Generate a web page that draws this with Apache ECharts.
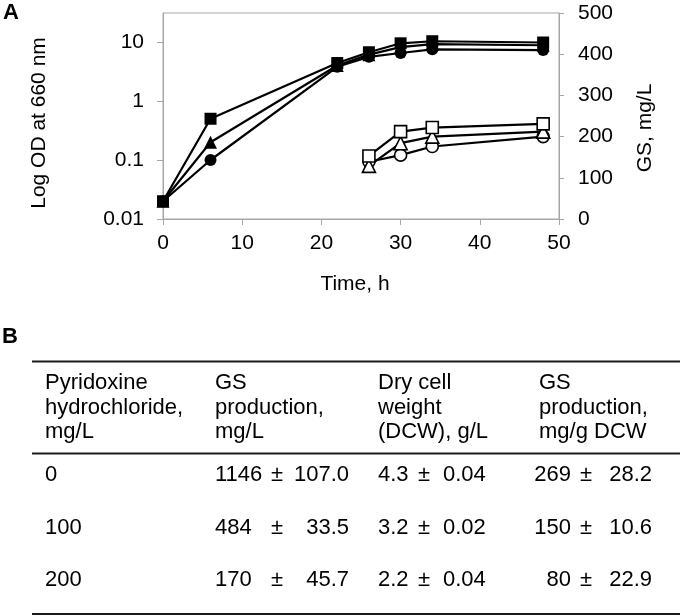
<!DOCTYPE html>
<html>
<head>
<meta charset="utf-8">
<script src="https://cdn.jsdelivr.net/npm/echarts@6.0.0/dist/echarts.min.js"></script>
<style>
html, body { margin: 0; padding: 0; background: #fff; }
#main { width: 680px; height: 616px; }
</style>
</head>
<body>
<div id="main"></div>
<script>
// time points, h
var timeOD = [0, 6, 22, 26, 30, 34, 48];
var timeGS = [26, 30, 34, 48];

// OD at 660 nm (filled marks)
var odSquare = [0.02, 0.5, 4.4, 6.7, 9.5, 10.3, 9.8];
var odTriangle = [0.02, 0.2, 4.0, 6.1, 8.2, 9.2, 8.8];
var odCircle = [0.02, 0.1, 3.8, 5.6, 6.5, 7.5, 7.3];

// GS, mg/L (open marks)
var gsSquare = [153, 212, 222, 231];
var gsTriangle = [129, 184, 200, 212];
var gsCircle = [139, 155, 176, 200];

var odTicks = [0.01, 0.1, 1, 10];
var odTickLabels = ['0.01', '0.1', '1', '10'];

// table B
var headPyr = ['Pyridoxine', 'hydrochloride,', 'mg/L'];
var headGS = ['GS', 'production,', 'mg/L'];
var headDCW = ['Dry cell', 'weight', '(DCW), g/L'];
var headSpec = ['GS', 'production,', 'mg/g DCW'];
var rowPyr = ['0', '100', '200'];
var gsValue = ['1146', '484', '170'];
var gsError = ['107.0', '33.5', '45.7'];
var dcwValue = ['4.3', '3.2', '2.2'];
var dcwError = ['0.04', '0.02', '0.04'];
var specValue = ['269', '150', '80'];
var specError = ['28.2', '10.6', '22.9'];

var FONT = '"Liberation Sans", Arial, sans-serif';
var FS = 21;
var TFS = 22;
var axisGray = '#a6a6a6';

var pairs = function(xs, ys) {
	var out = [];
	for (var i = 0; i < xs.length; i++) {
		out.push([xs[i], ys[i]]);
	}
	return out;
};

var lineSeries = function(name, xs, ys, symbol, size, filled, axisIdx) {
	return {
		name: name,
		type: 'line',
		yAxisIndex: axisIdx,
		data: pairs(xs, ys),
		symbol: symbol,
		symbolSize: size,
		showAllSymbol: true,
		animation: false,
		lineStyle: { color: '#000', width: 2.2 },
		itemStyle: {
			color: filled ? '#000' : '#fff',
			borderColor: '#000',
			borderWidth: filled ? 0 : 1.6
		},
		z: filled ? 3 : 4
	};
};

var txt = function(x, y, s, align, size) {
	return {
		type: 'text',
		silent: true,
		style: {
			text: s,
			x: x,
			y: y,
			fill: '#000',
			font: (size || TFS) + 'px ' + FONT,
			textAlign: align || 'left',
			textVerticalAlign: 'middle'
		}
	};
};

var rule = function(y, w) {
	return {
		type: 'line',
		silent: true,
		shape: { x1: 32, y1: y, x2: 680, y2: y },
		style: { stroke: '#1a1a1a', lineWidth: w }
	};
};

var graphics = [];
// panel letters
graphics.push({ type: 'text', silent: true, style: { text: 'A', x: 3, y: 13, fill: '#000', font: 'bold 22px ' + FONT, textVerticalAlign: 'middle' } });
graphics.push({ type: 'text', silent: true, style: { text: 'B', x: 2, y: 337, fill: '#000', font: 'bold 22px ' + FONT, textVerticalAlign: 'middle' } });

// axis titles
graphics.push({ type: 'text', silent: true, x: 39, y: 123, rotation: Math.PI / 2,
	style: { text: 'Log OD at 660 nm', x: 0, y: 0, fill: '#000', font: FS + 'px ' + FONT, textAlign: 'center', textVerticalAlign: 'middle' } });
graphics.push({ type: 'text', silent: true, x: 645, y: 128, rotation: Math.PI / 2,
	style: { text: 'GS, mg/L', x: 0, y: 0, fill: '#000', font: FS + 'px ' + FONT, textAlign: 'center', textVerticalAlign: 'middle' } });
graphics.push(txt(355, 284, 'Time, h', 'center', FS));

// table rules
graphics.push(rule(361.5, 2));
graphics.push(rule(453.5, 2));
graphics.push(rule(614, 2));

// table header
var headY = [383, 408, 432];
for (var i = 0; i < 3; i++) {
	graphics.push(txt(45, headY[i], headPyr[i]));
	graphics.push(txt(215, headY[i], headGS[i]));
	graphics.push(txt(378, headY[i], headDCW[i]));
	graphics.push(txt(539, headY[i], headSpec[i]));
}

// table rows
var rowY = [475, 528, 580];
for (var j = 0; j < 3; j++) {
	graphics.push(txt(45, rowY[j], rowPyr[j]));
	graphics.push(txt(215, rowY[j], gsValue[j]));
	graphics.push(txt(277, rowY[j], '\u00b1', 'center'));
	graphics.push(txt(349, rowY[j], gsError[j], 'right'));
	graphics.push(txt(378, rowY[j], dcwValue[j]));
	graphics.push(txt(424, rowY[j], '\u00b1', 'center'));
	graphics.push(txt(443, rowY[j], dcwError[j]));
	graphics.push(txt(571, rowY[j], specValue[j], 'right'));
	graphics.push(txt(586, rowY[j], '\u00b1', 'center'));
	graphics.push(txt(652, rowY[j], specError[j], 'right'));
}

var chart = echarts.init(document.getElementById('main'), null, { renderer: 'canvas' });

var option = {
	backgroundColor: '#fff',
	animation: false,
	textStyle: { fontFamily: FONT },
	grid: {
		left: 163, top: 13, width: 396, height: 206,
		show: true, borderColor: axisGray, borderWidth: 1
	},
	xAxis: {
		type: 'value', min: 0, max: 50, interval: 10,
		axisLine: { show: true, lineStyle: { color: axisGray, width: 1 } },
		axisTick: { show: true, inside: false, length: 6, lineStyle: { color: axisGray } },
		axisLabel: { color: '#000', fontSize: FS, fontFamily: FONT, margin: 14 },
		splitLine: { show: false }
	},
	yAxis: [{
		type: 'log', logBase: 10, min: 0.01, max: 31,
		axisLine: { show: true, lineStyle: { color: axisGray, width: 1 } },
		axisTick: { show: true, inside: false, length: 6, lineStyle: { color: axisGray }, customValues: odTicks },
		axisLabel: {
			color: '#000', fontSize: FS, fontFamily: FONT, margin: 19,
			customValues: odTicks,
			formatter: function(v) {
				var e = Math.log(v) / Math.LN10;
				var k = Math.round(e);
				if (Math.abs(e - k) > 1e-6) return '';
				return odTickLabels[k + 2] || '';
			}
		},
		splitLine: { show: false },
		minorTick: { show: false }
	}, {
		type: 'value', position: 'right', min: 0, max: 500, interval: 100,
		axisLine: { show: true, lineStyle: { color: axisGray, width: 1 } },
		axisTick: { show: true, inside: false, length: 5, lineStyle: { color: axisGray } },
		axisLabel: { color: '#000', fontSize: FS, fontFamily: FONT, margin: 19 },
		splitLine: { show: false }
	}],
	series: [
		lineSeries('OD 200', timeOD, odCircle, 'circle', 12, true, 0),
		lineSeries('OD 100', timeOD, odTriangle, 'triangle', 13, true, 0),
		lineSeries('OD 0', timeOD, odSquare, 'rect', 12, true, 0),
		lineSeries('GS 200', timeGS, gsCircle, 'circle', 12, false, 1),
		lineSeries('GS 100', timeGS, gsTriangle, 'triangle', 13, false, 1),
		lineSeries('GS 0', timeGS, gsSquare, 'rect', 12, false, 1)
	],
	graphic: graphics
};

chart.setOption(option);
</script>
</body>
</html>
